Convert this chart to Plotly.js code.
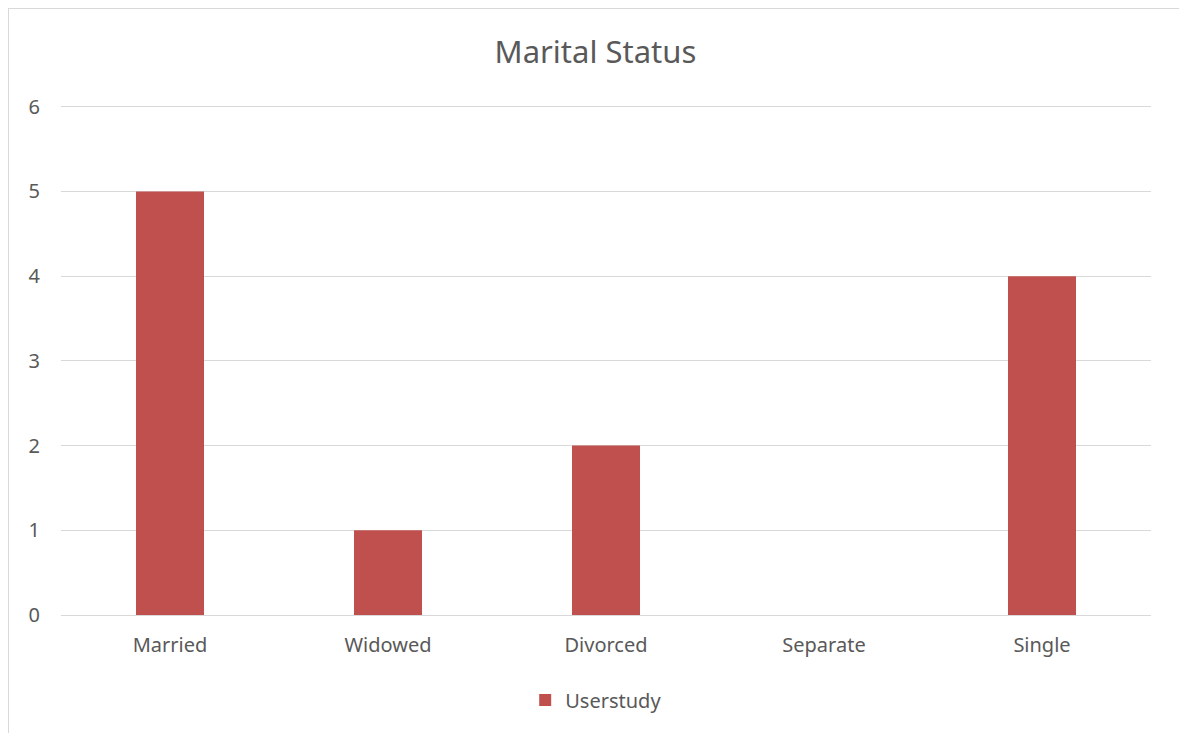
<!DOCTYPE html>
<html>
<head>
<meta charset="utf-8">
<script src="https://cdn.plot.ly/plotly-3.0.1.min.js"></script>
<style>
  html, body { margin: 0; padding: 0; background: #ffffff; overflow: hidden; }
  #frame { position: absolute; left: 8px; top: 8px; width: 1400px; height: 900px; border: 1px solid #d9d9d9; box-sizing: border-box; }
  #chart { position: absolute; left: 0; top: 0; width: 1179px; height: 733px; }
</style>
</head>
<body>
<div id="frame"></div>
<div id="chart"></div>
<script>
const categories = ["Married", "Widowed", "Divorced", "Separate", "Single"];
const userstudy = [5, 1, 2, 0, 4];
const yTicks = [0, 1, 2, 3, 4, 5, 6];

const textColor = "#595959";
const fontFamily = "'Noto Sans', 'Open Sans', sans-serif";

const data = [{
  type: "bar",
  x: categories,
  y: userstudy,
  name: "Userstudy",
  marker: { color: "#C0504D" },
  hoverinfo: "x+y"
}];

const layout = {
  width: 1179,
  height: 733,
  paper_bgcolor: "rgba(0,0,0,0)",
  plot_bgcolor: "rgba(0,0,0,0)",
  margin: { l: 61, r: 28, t: 105, b: 118 },
  font: { family: fontFamily, color: textColor, size: 20 },
  title: {
    text: "Marital Status",
    font: { family: fontFamily, size: 31, color: textColor },
    xref: "container", x: 0.505, xanchor: "center",
    yref: "container", y: 1 - 52 / 733, yanchor: "middle"
  },
  bargap: 0.688,
  xaxis: {
    type: "category",
    showgrid: false,
    showline: false,
    zeroline: false,
    ticks: "",
    ticklabelstandoff: 16,
    tickfont: { family: fontFamily, size: 20, color: textColor }
  },
  yaxis: {
    range: [0, 6.02],
    tickmode: "array",
    tickvals: yTicks,
    ticktext: yTicks.map(String),
    showgrid: true,
    gridcolor: "#d9d9d9",
    gridwidth: 1,
    zeroline: true,
    zerolinecolor: "#d9d9d9",
    zerolinewidth: 1,
    showline: false,
    ticks: "",
    ticklabelstandoff: 20,
    tickfont: { family: fontFamily, size: 20, color: textColor }
  },
  showlegend: true,
  legend: {
    orientation: "h",
    x: 0.491, xanchor: "center",
    y: -85 / 510, yanchor: "middle",
    font: { family: fontFamily, size: 20, color: textColor },
    bgcolor: "rgba(0,0,0,0)"
  }
};

Plotly.newPlot("chart", data, layout, { displayModeBar: false, staticPlot: false });
</script>
</body>
</html>
